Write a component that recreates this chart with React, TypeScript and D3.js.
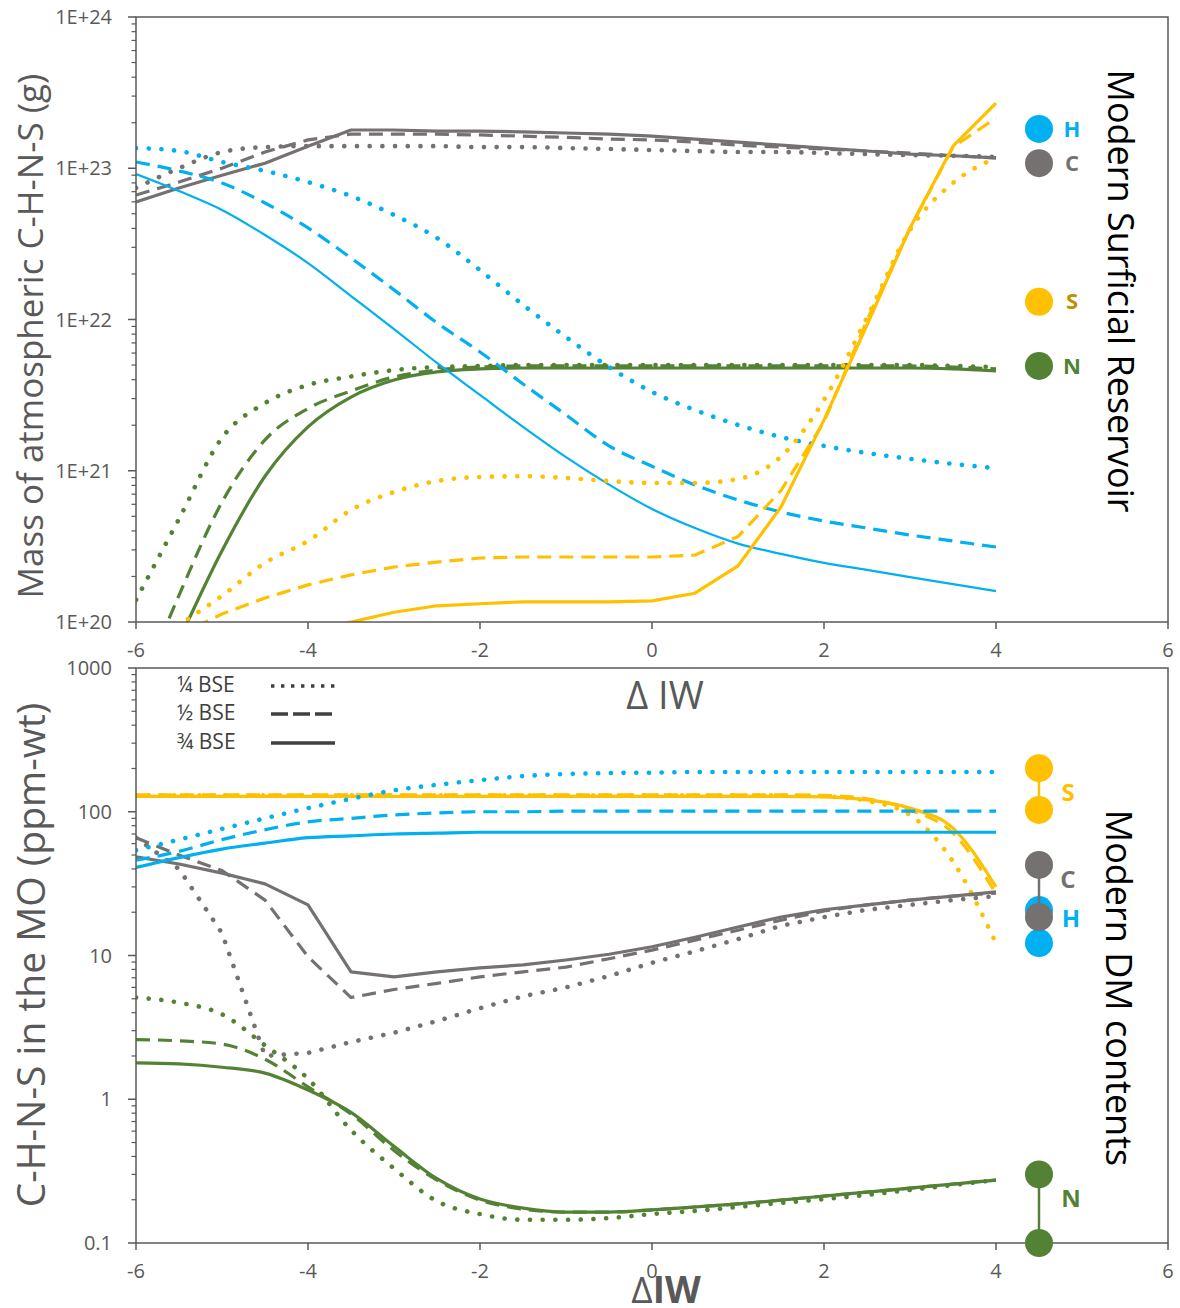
import React from "react";
import * as d3 from "d3";

// ---------- DATA ----------
const DIW = [-6, -5.5, -5, -4.5, -4, -3.5, -3, -2.5, -2, -1.5, -1, -0.5, 0, 0.5, 1, 1.5, 2, 2.5, 3, 3.5, 4];

// Top panel: mass of atmospheric species (g); q = 1/4 BSE, h = 1/2 BSE, t = 3/4 BSE
const atmC_q = [7.4e22, 1.0e23, 1.28e23, 1.38e23, 1.4e23, 1.4e23, 1.4e23, 1.4e23, 1.38e23, 1.38e23, 1.36e23, 1.34e23, 1.32e23, 1.3e23, 1.28e23, 1.28e23, 1.26e23, 1.24e23, 1.22e23, 1.21e23, 1.19e23];
const atmC_h = [6.65e22, 8.1e22, 1.0e23, 1.28e23, 1.54e23, 1.68e23, 1.68e23, 1.68e23, 1.66e23, 1.63e23, 1.6e23, 1.56e23, 1.54e23, 1.49e23, 1.42e23, 1.38e23, 1.34e23, 1.3e23, 1.26e23, 1.21e23, 1.17e23];
const atmC_t = [5.98e22, 7.4e22, 9.0e22, 1.08e23, 1.4e23, 1.79e23, 1.79e23, 1.76e23, 1.76e23, 1.74e23, 1.71e23, 1.68e23, 1.63e23, 1.56e23, 1.49e23, 1.42e23, 1.36e23, 1.3e23, 1.24e23, 1.21e23, 1.17e23];

const atmH_q = [1.36e23, 1.3e23, 1.1e23, 9.6e22, 8.1e22, 6.55e22, 4.91e22, 3.46e22, 2.12e22, 1.25e22, 7.66e21, 4.85e21, 3.32e21, 2.52e21, 2.01e21, 1.67e21, 1.46e21, 1.31e21, 1.2e21, 1.11e21, 1.04e21];
const atmH_h = [1.1e23, 9.6e22, 7.99e22, 5.89e22, 4.03e22, 2.55e22, 1.57e22, 9.5e21, 6.1e21, 3.75e21, 2.34e21, 1.46e21, 1.07e21, 8.05e20, 6.41e20, 5.34e20, 4.65e20, 4.18e20, 3.76e20, 3.43e20, 3.13e20];
const atmH_t = [9.16e22, 7.07e22, 5.3e22, 3.62e22, 2.36e22, 1.43e22, 8.65e21, 5.16e21, 3.17e21, 1.95e21, 1.23e21, 8.1e20, 5.59e20, 4.18e20, 3.3e20, 2.82e20, 2.46e20, 2.21e20, 1.98e20, 1.78e20, 1.6e20];

const atmN_q = [1.4e20, 4.8e20, 1.65e21, 2.8e21, 3.69e21, 4.2e21, 4.63e21, 4.85e21, 4.93e21, 5.0e21, 5.0e21, 5.0e21, 5.0e21, 5.0e21, 5.0e21, 5.0e21, 5.0e21, 5.0e21, 5.0e21, 4.93e21, 4.85e21];
const atmN_h = [3.05e19, 1.5e20, 6.2e20, 1.6e21, 2.58e21, 3.37e21, 4.17e21, 4.63e21, 4.85e21, 4.93e21, 4.93e21, 4.93e21, 4.93e21, 4.93e21, 4.93e21, 4.93e21, 4.93e21, 4.93e21, 4.93e21, 4.85e21, 4.71e21];
const atmN_t = [1.93e19, 7.6e19, 2.96e20, 9.2e20, 1.95e21, 3.07e21, 3.98e21, 4.5e21, 4.71e21, 4.78e21, 4.78e21, 4.78e21, 4.78e21, 4.78e21, 4.78e21, 4.78e21, 4.78e21, 4.78e21, 4.78e21, 4.71e21, 4.57e21];

const atmS_q = [6.0e19, 9.55e19, 1.49e20, 2.46e20, 3.43e20, 5.5e20, 7.24e20, 8.55e20, 9.1e20, 9.2e20, 8.96e20, 8.55e20, 8.3e20, 8.3e20, 8.82e20, 1.24e21, 2.94e21, 1.03e22, 3.91e22, 8.0e22, 1.17e23];
const atmS_h = [6.0e19, 8.2e19, 1.13e20, 1.44e20, 1.76e20, 2.05e20, 2.31e20, 2.49e20, 2.65e20, 2.69e20, 2.69e20, 2.69e20, 2.69e20, 2.77e20, 3.67e20, 7.4e20, 2.1e21, 9.9e21, 4.0e22, 1.38e23, 2.15e23];
const atmS_t = [3.05e19, 4.1e19, 5.6e19, 7.0e19, 8.6e19, 1.0e20, 1.16e20, 1.28e20, 1.32e20, 1.36e20, 1.36e20, 1.36e20, 1.38e20, 1.55e20, 2.35e20, 5.76e20, 2.17e21, 9.2e21, 4.03e22, 1.4e23, 2.7e23];

// Bottom panel: C-H-N-S in the MO (ppm-wt)
const moS_q = [130, 130, 130, 130, 130, 130, 130, 130, 130, 130, 130, 130, 130, 130, 130, 130, 128, 119, 95, 45, 12.2];
const moS_h = [131, 131, 131, 131, 131, 131, 131, 131, 131, 131, 131, 131, 131, 131, 131, 131, 130, 123, 103, 71, 27];
const moS_t = [128, 128, 128, 128, 128, 128, 128, 128, 128, 128, 128, 128, 128, 128, 128, 128, 127, 121, 106, 77, 30];

const moH_q = [54, 64, 76, 90, 106, 123, 141, 154, 166, 177, 183, 186, 187, 189, 189, 189, 189, 189, 189, 189, 189];
const moH_h = [46, 53, 64, 75, 85, 90, 95, 98, 100, 100, 101, 101, 101, 101, 101, 101, 101, 101, 101, 101, 101];
const moH_t = [41, 48, 55, 60.5, 66, 68, 70, 71, 72, 72, 72, 72, 72, 72, 72, 72, 72, 72, 72, 72, 72];

const moC_q = [66, 40, 14.3, 2.0, 2.1, 2.5, 2.9, 3.5, 4.3, 5.2, 6.0, 7.2, 8.9, 10.7, 13.0, 16.1, 18.5, 20.8, 22.5, 24.3, 25.9];
const moC_h = [66, 50, 39, 24.3, 9.8, 5.1, 5.8, 6.4, 7.1, 7.7, 8.3, 9.5, 10.9, 12.8, 15.0, 17.6, 20.4, 22.5, 24.3, 25.9, 27.2];
const moC_t = [48.6, 43.3, 37.4, 31.5, 22.5, 7.7, 7.1, 7.7, 8.2, 8.6, 9.3, 10.2, 11.5, 13.4, 15.8, 18.5, 20.8, 22.5, 24.3, 25.9, 27.7];

const moN_q = [5.1, 4.7, 3.9, 2.37, 1.39, 0.61, 0.33, 0.195, 0.159, 0.145, 0.145, 0.149, 0.159, 0.167, 0.178, 0.19, 0.202, 0.216, 0.234, 0.253, 0.274];
const moN_h = [2.6, 2.55, 2.42, 1.9, 1.22, 0.79, 0.44, 0.274, 0.199, 0.172, 0.164, 0.164, 0.17, 0.178, 0.187, 0.199, 0.212, 0.226, 0.241, 0.257, 0.274];
const moN_t = [1.79, 1.76, 1.67, 1.52, 1.16, 0.81, 0.47, 0.28, 0.202, 0.175, 0.164, 0.164, 0.17, 0.178, 0.187, 0.199, 0.212, 0.226, 0.241, 0.257, 0.274];

// Modern reference values (plotted at ΔIW = 4.5)
const REF_X = 4.5;
const surfElements = ["H", "C", "S", "N"];
const surfValues = [1.82e23, 1.08e23, 1.31e22, 4.93e21];
const dmElements = ["S", "H", "C", "N"];
const dmLow = [103, 12.2, 18.5, 0.1];
const dmHigh = [201, 20.7, 42.7, 0.3];

const topTickValues = [1e20, 1e21, 1e22, 1e23, 1e24];
const topTickLabels = ["1E+20", "1E+21", "1E+22", "1E+23", "1E+24"];
const botTickValues = [0.1, 1, 10, 100, 1000];
const botTickLabels = ["0.1", "1", "10", "100", "1000"];
const xTicks = [-6, -4, -2, 0, 2, 4, 6];
const legendLabels = ["¼ BSE", "½ BSE", "¾ BSE"];

// ---------- STYLE ----------
const COLORS: Record<string, string> = { H: "#00B0F0", C: "#767171", S: "#FFC000", N: "#548235" };
const TOP_LABEL_COLORS: Record<string, string> = { H: "#00B0F0", C: "#767171", S: "#BF9000", N: "#548235" };
const AXIS = "#595959";
const FONT = "'Open Sans', 'Noto Sans', sans-serif";

const L = 136, R = 1168;
const T1 = 17, B1 = 622;
const T2 = 668, B2 = 1243;

const x = d3.scaleLinear().domain([-6, 6]).range([L, R]);
const yTop = d3.scaleLog().domain([1e20, 1e24]).range([B1, T1]);
const yBot = d3.scaleLog().domain([0.1, 1000]).range([B2, T2]);

type Frac = "q" | "h" | "t";
const dashFor = (f: Frac) =>
  f === "q"
    ? { strokeDasharray: "0.1 12.6", strokeLinecap: "round" as const, strokeWidth: 4.6 }
    : f === "h"
    ? { strokeDasharray: "14 8", strokeLinecap: "butt" as const, strokeWidth: 3.2 }
    : { strokeDasharray: undefined, strokeLinecap: "butt" as const, strokeWidth: 3.2 };

type Series = { el: string; f: Frac; v: number[]; smooth: boolean };
const topSeries: Series[] = [
  { el: "C", f: "q", v: atmC_q, smooth: true }, { el: "C", f: "h", v: atmC_h, smooth: false }, { el: "C", f: "t", v: atmC_t, smooth: false },
  { el: "N", f: "q", v: atmN_q, smooth: true }, { el: "N", f: "h", v: atmN_h, smooth: true }, { el: "N", f: "t", v: atmN_t, smooth: true },
  { el: "H", f: "q", v: atmH_q, smooth: true }, { el: "H", f: "h", v: atmH_h, smooth: true }, { el: "H", f: "t", v: atmH_t, smooth: true },
  { el: "S", f: "q", v: atmS_q, smooth: true }, { el: "S", f: "h", v: atmS_h, smooth: false }, { el: "S", f: "t", v: atmS_t, smooth: false },
];
const botSeries: Series[] = [
  { el: "S", f: "q", v: moS_q, smooth: true }, { el: "S", f: "h", v: moS_h, smooth: true }, { el: "S", f: "t", v: moS_t, smooth: true },
  { el: "C", f: "q", v: moC_q, smooth: false }, { el: "C", f: "h", v: moC_h, smooth: false }, { el: "C", f: "t", v: moC_t, smooth: false },
  { el: "N", f: "q", v: moN_q, smooth: true }, { el: "N", f: "h", v: moN_h, smooth: true }, { el: "N", f: "t", v: moN_t, smooth: true },
  { el: "H", f: "q", v: moH_q, smooth: true }, { el: "H", f: "h", v: moH_h, smooth: true }, { el: "H", f: "t", v: moH_t, smooth: true },
];

function minorTicks(lo: number, hi: number) {
  const out: number[] = [];
  for (let e = Math.log10(lo); e < Math.log10(hi) - 0.01; e++) {
    for (let k = 2; k <= 9; k++) out.push(k * Math.pow(10, e));
  }
  return out;
}

function Panel({ y, top, bottom, tickValues, tickLabels, series, clipId, thinSolidH }: any) {
  const line = (vals: number[], smooth: boolean) =>
    d3.line<number>().x((_, i) => x(DIW[i])).y((d) => y(d))
      .curve(smooth ? d3.curveMonotoneX : d3.curveLinear)(vals) || "";
  const lo = tickValues[0], hi = tickValues[tickValues.length - 1];
  return (
    <g>
      <defs>
        <clipPath id={clipId}>
          <rect x={L} y={top} width={R - L} height={bottom - top} />
        </clipPath>
      </defs>
      <g clipPath={`url(#${clipId})`}>
        {series.map((s: Series, i: number) => {
          const st = dashFor(s.f);
          const w = thinSolidH && s.el === "H" && s.f === "t" ? 2.2 : st.strokeWidth;
          return (
            <path key={i} d={line(s.v, s.smooth)} fill="none" stroke={COLORS[s.el]} strokeWidth={w}
              strokeDasharray={st.strokeDasharray} strokeLinecap={st.strokeLinecap} strokeLinejoin="round" />
          );
        })}
      </g>
      <rect x={L} y={top} width={R - L} height={bottom - top} fill="none" stroke={AXIS} strokeWidth={1.5} />
      {minorTicks(lo, hi).map((v, i) => (
        <line key={"m" + i} x1={L - 4.5} x2={L} y1={y(v)} y2={y(v)} stroke={AXIS} strokeWidth={1.2} />
      ))}
      {tickValues.map((v: number, i: number) => (
        <g key={"t" + i}>
          <line x1={L - 8} x2={L} y1={y(v)} y2={y(v)} stroke={AXIS} strokeWidth={1.5} />
          <text x={L - 24} y={y(v)} dy="0.35em" textAnchor="end" fontSize={20} fill={AXIS} fontFamily={FONT}>
            {tickLabels[i]}
          </text>
        </g>
      ))}
      {xTicks.map((v, i) => (
        <g key={"x" + i}>
          <line x1={x(v)} x2={x(v)} y1={bottom} y2={bottom + 7} stroke={AXIS} strokeWidth={1.5} />
          <text x={x(v)} y={bottom + 28} dy="0.35em" textAnchor="middle" fontSize={20} fill={AXIS} fontFamily={FONT}>
            {v}
          </text>
        </g>
      ))}
    </g>
  );
}

export default function App() {
  const legendY = [685, 713, 742];
  const legendDash = ["3.4 6.6", "17 5", undefined];
  return (
    <svg width={1180} height={1308} style={{ position: "absolute", left: 0, top: 0, background: "#fff" }}
      fontFamily={FONT}>
      <rect x={0} y={0} width={1180} height={1308} fill="#fff" />
      <Panel y={yTop} top={T1} bottom={B1} tickValues={topTickValues} tickLabels={topTickLabels}
        series={topSeries} clipId="clipTop" thinSolidH={true} />
      <Panel y={yBot} top={T2} bottom={B2} tickValues={botTickValues} tickLabels={botTickLabels}
        series={botSeries} clipId="clipBot" thinSolidH={false} />

      {/* y axis titles */}
      <text transform={`translate(43, 336) rotate(-90)`} textAnchor="middle" fontSize={35} fill={AXIS}>
        Mass of atmospheric C-H-N-S (g)
      </text>
      <text transform={`translate(45, 955) rotate(-90)`} textAnchor="middle" fontSize={39} fill={AXIS}>
        C-H-N-S in the MO (ppm-wt)
      </text>

      {/* right titles */}
      <text transform={`translate(1108, 291) rotate(90)`} textAnchor="middle" fontSize={36} fill="#000">
        Modern Surficial Reservoir
      </text>
      <text transform={`translate(1106, 988) rotate(90)`} textAnchor="middle" fontSize={36} fill="#000">
        Modern DM contents
      </text>

      {/* x axis titles */}
      <text x={665} y={709} textAnchor="middle" fontSize={38} fill={AXIS}>Δ IW</text>
      <text x={666} y={1303} textAnchor="middle" fontSize={37} fill={AXIS}>
        <tspan>Δ</tspan><tspan fontWeight="bold">IW</tspan>
      </text>

      {/* legend */}
      {legendLabels.map((lab, i) => (
        <g key={lab}>
          <text x={177} y={legendY[i]} dy="0.35em" fontSize={21} fill="#404040">{lab}</text>
          <line x1={271} x2={335} y1={legendY[i] + 1} y2={legendY[i] + 1} stroke="#404040" strokeWidth={3.3}
            strokeDasharray={legendDash[i]} />
        </g>
      ))}

      {/* modern surficial reservoir markers */}
      {surfElements.map((el, i) => (
        <g key={"s" + el}>
          <circle cx={x(REF_X)} cy={yTop(surfValues[i])} r={14} fill={COLORS[el]} />
          <text x={x(REF_X) + 33} y={yTop(surfValues[i])} dy="0.35em" textAnchor="middle" fontSize={22}
            fontWeight="bold" fill={TOP_LABEL_COLORS[el]}>{el}</text>
        </g>
      ))}

      {/* modern DM ranges */}
      {dmElements.map((el, i) => (
        <g key={"d" + el}>
          <line x1={x(REF_X)} x2={x(REF_X)} y1={yBot(dmLow[i])} y2={yBot(dmHigh[i])} stroke={COLORS[el]} strokeWidth={2.5} />
          <circle cx={x(REF_X)} cy={yBot(dmLow[i])} r={14} fill={COLORS[el]} />
          <circle cx={x(REF_X)} cy={yBot(dmHigh[i])} r={14} fill={COLORS[el]} />
        </g>
      ))}
      <text x={1068} y={793} dy="0.35em" textAnchor="middle" fontSize={24} fontWeight="bold" fill={COLORS.S}>S</text>
      <text x={1068} y={880} dy="0.35em" textAnchor="middle" fontSize={24} fontWeight="bold" fill={COLORS.C}>C</text>
      <text x={1071} y={919} dy="0.35em" textAnchor="middle" fontSize={24} fontWeight="bold" fill={COLORS.H}>H</text>
      <text x={1071} y={1199} dy="0.35em" textAnchor="middle" fontSize={24} fontWeight="bold" fill={COLORS.N}>N</text>
    </svg>
  );
}
